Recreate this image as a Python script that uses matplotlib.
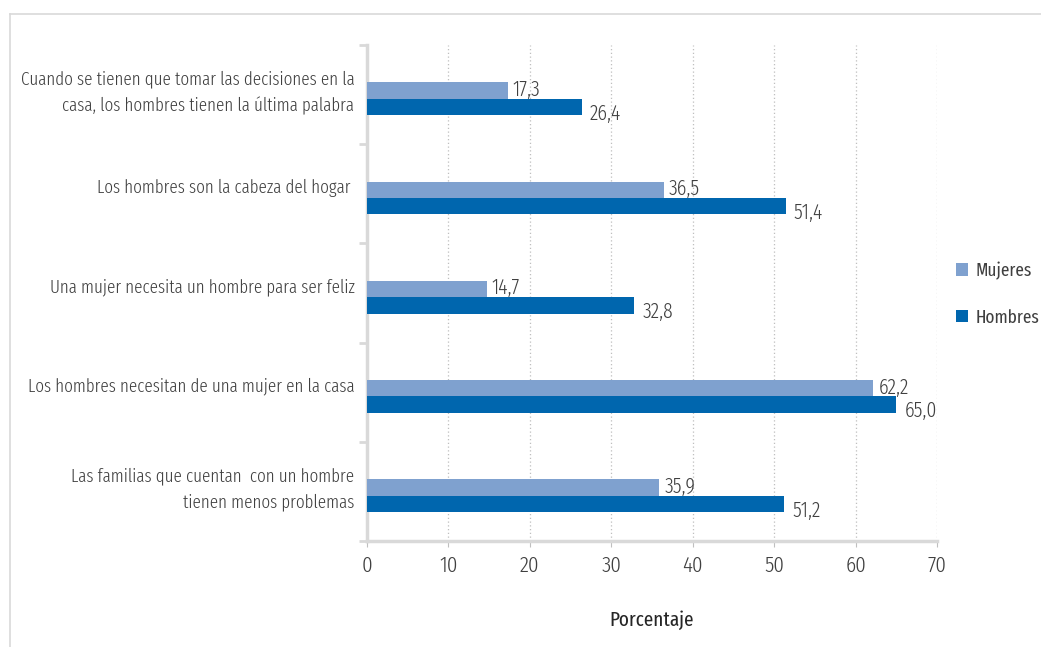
import matplotlib
matplotlib.use("Agg")
import matplotlib.pyplot as plt
from matplotlib.lines import Line2D
from matplotlib.patches import Patch
from matplotlib import font_manager

fams = {f.name for f in font_manager.fontManager.ttflist}
choices = [f for f in ["Fira Sans Extra Condensed", "Roboto Condensed", "Open Sans Condensed"] if f in fams]
plt.rcParams["font.family"] = choices + ["DejaVu Sans"]
plt.rcParams["font.weight"] = 300

categories = [
    "Cuando se tienen que tomar las decisiones en la\ncasa, los hombres tienen la última palabra",
    "Los hombres son la cabeza del hogar ",
    "Una mujer necesita un hombre para ser feliz",
    "Los hombres necesitan de una mujer en la casa",
    "Las familias que cuentan  con un hombre\ntienen menos problemas",
]
mujeres = [17.3, 36.5, 14.7, 62.2, 35.9]
hombres = [26.4, 51.4, 32.8, 65.0, 51.2]
series_names = ["Mujeres", "Hombres"]
xticks = [0, 10, 20, 30, 40, 50, 60, 70]
xlabel = "Porcentaje"

C_LIGHT = "#7FA1CF"
C_DARK = "#0066AE"
TXT = "#404040"
GRID = "#bfbfbf"
SPINE = "#d9d9d9"

fig = plt.figure(figsize=(10.41, 6.47), dpi=100)
ax = fig.add_axes([367/1041, 1-541/647, (937-367)/1041, (541-45)/647])

pos = list(range(len(categories)))
h = 0.165
ax.barh([p - 0.04 for p in pos], mujeres, height=h, color=C_LIGHT, zorder=3)
ax.barh([p + 0.125 for p in pos], hombres, height=h, color=C_DARK, zorder=3)

def fmt(v):
    return f"{v:.1f}".replace(".", ",")

for p, v in zip(pos, mujeres):
    ax.text(v + 0.6, p - 0.05, fmt(v), va="center", ha="left", fontsize=15.5, color=TXT)
for p, v in zip(pos, hombres):
    ax.text(v + 1.0, p + 0.19, fmt(v), va="center", ha="left", fontsize=15.5, color=TXT)

ax.set_xlim(0, 70)
ax.set_ylim(4.5, -0.5)
ax.set_xticks(xticks)
ax.set_xticklabels([str(t) for t in xticks], fontsize=16.5, color=TXT)
ax.xaxis.grid(True, linestyle=(0, (1, 2)), color=GRID, linewidth=0.9, zorder=0)
ax.tick_params(axis="x", length=4, color=GRID, pad=6)

ax.set_yticks([b - 0.5 for b in range(len(categories) + 1)])
ax.set_yticklabels([])
ax.tick_params(axis="y", which="major", length=6, width=2, color=SPINE, direction="out")
ax.set_yticks([p - 0.08 for p in pos], minor=True)
ax.set_yticklabels(categories, minor=True, fontsize=13.3, color=TXT, linespacing=1.6)
ax.tick_params(axis="y", which="minor", length=0, pad=9)

for s in ["top", "right"]:
    ax.spines[s].set_visible(False)
ax.spines["left"].set_color(SPINE)
ax.spines["left"].set_linewidth(2.5)
ax.spines["bottom"].set_color(SPINE)
ax.spines["bottom"].set_linewidth(2.5)

fig.text(652/1041, 1-620/647, xlabel, ha="center", va="center", fontsize=15, color="#262626", fontweight=400)

handles = [Patch(facecolor=C_LIGHT), Patch(facecolor=C_DARK)]
leg = fig.legend(handles, series_names, loc="center left", bbox_to_anchor=(943/1041, 1-294/647),
                 frameon=False, fontsize=13.5, handlelength=0.65, handleheight=0.65,
                 handletextpad=0.4, labelspacing=1.55, borderpad=0.2)
for t in leg.get_texts():
    t.set_color(TXT)
    t.set_fontweight(400)

fig.add_artist(Line2D([10/1041, 10/1041], [0, 1-14/647], transform=fig.transFigure, color="#d9d9d9", lw=1.2))
fig.add_artist(Line2D([10/1041, 1], [1-14/647, 1-14/647], transform=fig.transFigure, color="#d9d9d9", lw=1.2))

fig.savefig("out.png", dpi=100, facecolor="white")
